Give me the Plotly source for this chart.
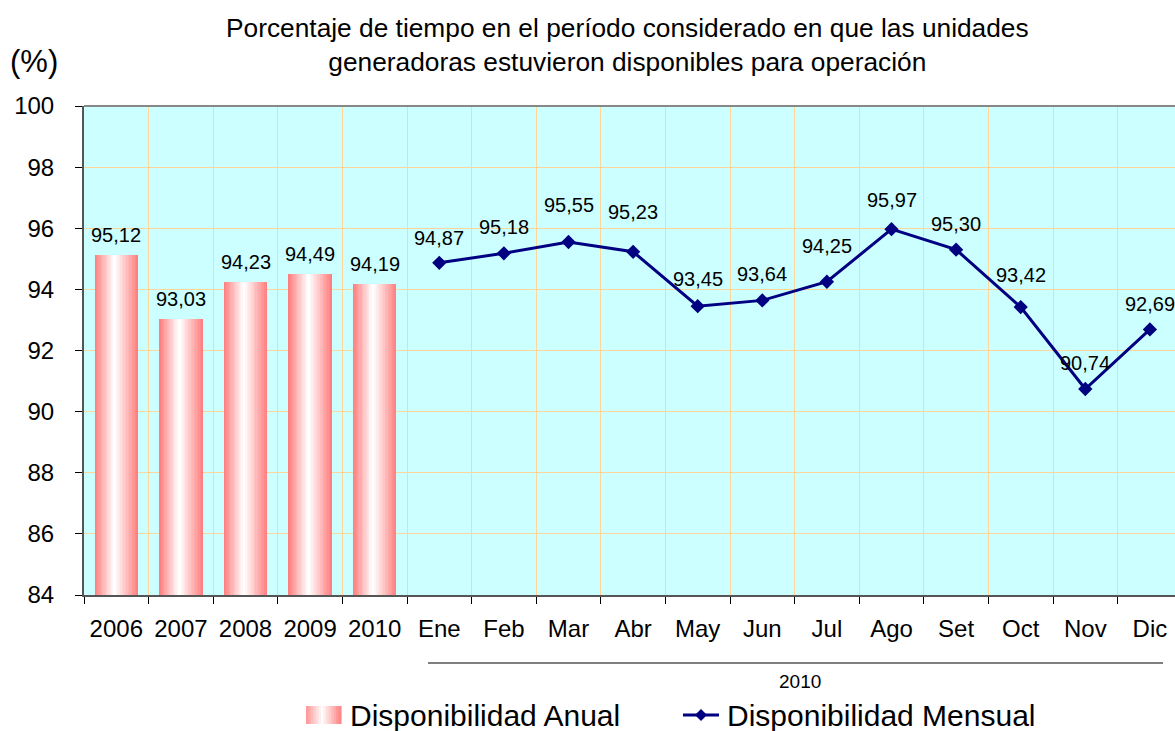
import plotly.graph_objects as go

years = ["2006", "2007", "2008", "2009", "2010"]
annual = [95.12, 93.03, 94.23, 94.49, 94.19]
months = ["Ene", "Feb", "Mar", "Abr", "May", "Jun", "Jul", "Ago", "Set", "Oct", "Nov", "Dic"]
monthly = [94.87, 95.18, 95.55, 95.23, 93.45, 93.64, 94.25, 95.97, 95.30, 93.42, 90.74, 92.69]
categories = years + months
y_ticks = [84, 86, 88, 90, 92, 94, 96, 98, 100]

# label offsets above points (style, in pixels)
month_label_shift = [25, 26, 37, 40, 27, 26, 36, 29, 26, 32, 26, 25]

def fmt(v):
    return f"{v:.2f}".replace(".", ",")

FONT = "Liberation Sans, Arial, sans-serif"
W, H = 1175, 731
L, R, T, B = 84, 0, 106, 136
PW, PH = W - L - R, H - T - B

fig = go.Figure()

# gradient bars: nested overlay bars, pink edges -> white near the centre
N = 16
pink = (255, 128, 128)
bw = 0.67
white_pos = 0.46
for k in range(N):
    t = k / N
    left = -bw / 2 + t * (bw * white_pos)
    right = bw / 2 - t * (bw * (1 - white_pos))
    c = tuple(int(round(p + (255 - p) * (k / (N - 1)))) for p in pink)
    fig.add_trace(go.Bar(
        x=years, y=annual, width=[right - left] * len(years), offset=[left] * len(years),
        marker=dict(color=f"rgb{c}", line=dict(width=0)),
        name="Disponibilidad Anual", showlegend=False,
        legendgroup="anual", hoverinfo="skip",
    ))

fig.add_trace(go.Scatter(
    x=months, y=monthly, mode="lines+markers",
    line=dict(color="#000080", width=3),
    marker=dict(symbol="diamond", size=11, color="#000080"),
    name="Disponibilidad Mensual", showlegend=False, cliponaxis=False,
))

for x, v in zip(years, annual):
    fig.add_annotation(x=categories.index(x), y=v, text=fmt(v), showarrow=False, yanchor="middle",
                       yshift=20, font=dict(size=20, family=FONT, color="black"))
for x, v, s in zip(months, monthly, month_label_shift):
    fig.add_annotation(x=categories.index(x), y=v, text=fmt(v), showarrow=False, yanchor="middle",
                       yshift=s, font=dict(size=20, family=FONT, color="black"))

px_per_cat = 64.6
right_edge = PW / px_per_cat - 0.5

fig.update_layout(
    width=W, height=H,
    margin=dict(l=L, r=R, t=T, b=B),
    paper_bgcolor="white", plot_bgcolor="#CCFFFF",
    barmode="overlay", bargap=0,
    font=dict(family=FONT, color="black"),
    showlegend=False,
    xaxis=dict(
        type="category", categoryorder="array", categoryarray=categories,
        range=[-0.5, right_edge], tickson="boundaries",
        showgrid=True, gridcolor="#FFD699", gridwidth=1,
        ticks="outside", ticklen=7, tickcolor="black",
        tickfont=dict(size=24, family=FONT), ticklabelstandoff=11,
        showline=True, linecolor="#555555", linewidth=2,
    ),
    yaxis=dict(
        range=[84, 100], tickvals=y_ticks, ticktext=[str(v) for v in y_ticks],
        showgrid=True, gridcolor="#FFD699", gridwidth=1,
        ticks="outside", ticklen=7, tickcolor="black",
        tickfont=dict(size=24, family=FONT), ticklabelstandoff=16,
        showline=True, linecolor="#555555", linewidth=2, zeroline=False,
    ),
)

def px_x(p):
    return (p - L) / PW

def px_y(p):
    return (H - B - p) / PH

# top border
fig.add_shape(type="line", xref="paper", yref="paper", x0=0, x1=1, y0=1, y1=1,
              line=dict(color="#888888", width=2))
# group line for the 2010 months
fig.add_shape(type="line", xref="paper", yref="paper", x0=px_x(428), x1=px_x(1163),
              y0=px_y(663), y1=px_y(663), line=dict(color="#555555", width=1.5))
fig.add_annotation(x=px_x(800), xref="paper", y=px_y(681), yref="paper", text="2010",
                   showarrow=False, font=dict(size=19, family=FONT), yanchor="middle")

# title and unit
fig.add_annotation(
    x=px_x(627), xref="paper", y=px_y(45), yref="paper",
    text="Porcentaje de tiempo en el período considerado en que las unidades<br>generadoras estuvieron disponibles para operación",
    showarrow=False, font=dict(size=26.3, family=FONT), xanchor="center", yanchor="middle",
)
fig.add_annotation(
    x=px_x(8), xref="paper", y=px_y(62), yref="paper", text="(%)",
    showarrow=False, font=dict(size=31, family=FONT), xanchor="left", yanchor="middle",
)

# custom legend
ly = px_y(715)
nseg = 14
x0, x1 = 306, 341
for k in range(nseg):
    a = x0 + (x1 - x0) * k / nseg
    b = x0 + (x1 - x0) * (k + 1) / nseg
    m = (k + 0.5) / nseg
    d = abs(m - white_pos) / max(white_pos, 1 - white_pos)
    c = tuple(int(round(255 + (p - 255) * d)) for p in pink)
    fig.add_shape(type="rect", xref="paper", yref="paper", x0=px_x(a), x1=px_x(b) + 0.0005,
                  y0=px_y(724), y1=px_y(706), line=dict(width=0), fillcolor=f"rgb{c}")
fig.add_annotation(x=px_x(348), xref="paper", y=ly, yref="paper", text="Disponibilidad Anual",
                   showarrow=False, font=dict(size=30, family=FONT), xanchor="left", yanchor="middle")
fig.add_shape(type="line", xref="paper", yref="paper", x0=px_x(683), x1=px_x(719),
              y0=ly, y1=ly, line=dict(color="#000080", width=3))
fig.add_shape(type="path", xref="paper", yref="paper",
              path=f"M {px_x(695)},{ly} L {px_x(701)},{px_y(709)} L {px_x(707)},{ly} L {px_x(701)},{px_y(721)} Z",
              fillcolor="#000080", line=dict(width=0))
fig.add_annotation(x=px_x(725), xref="paper", y=ly, yref="paper", text="Disponibilidad Mensual",
                   showarrow=False, font=dict(size=30, family=FONT), xanchor="left", yanchor="middle")

fig.write_html("out.html", config={"displayModeBar": False},
               post_script="document.body.style.margin='0';document.body.style.overflow='hidden';")
